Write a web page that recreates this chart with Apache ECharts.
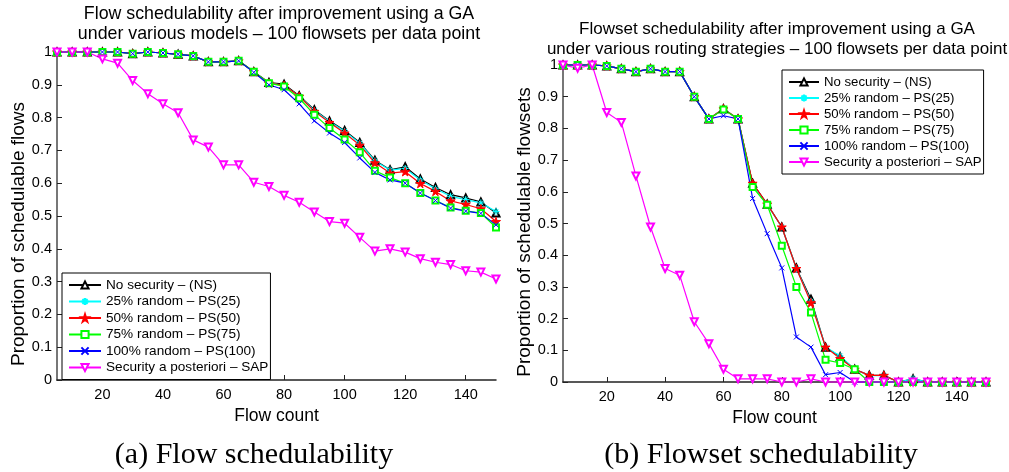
<!DOCTYPE html>
<html><head><meta charset="utf-8">
<script src="https://cdn.jsdelivr.net/npm/echarts@6/dist/echarts.min.js"></script>
<style>html,body{margin:0;padding:0;background:#fff}#c{width:1009px;height:472px}</style>
</head><body><div id="c"></div>
<script>
// ---------- data ----------
const flowCounts = [5,10,15,20,25,30,35,40,45,50,55,60,65,70,75,80,85,90,95,100,105,110,115,120,125,130,135,140,145,150];
const xTickValues = [20,40,60,80,100,120,140];
const seriesNames = ['No security \u2013 (NS)','25% random \u2013 PS(25)','50% random \u2013 PS(50)','75% random \u2013 PS(75)','100% random \u2013 PS(100)','Security a posteriori \u2013 SAP'];

// (a) Flow schedulability
const flowNS    = [1,1,1,1,1,0.995,1,0.997,0.993,0.988,0.97,0.97,0.973,0.94,0.907,0.902,0.867,0.824,0.79,0.761,0.724,0.67,0.641,0.65,0.613,0.587,0.565,0.555,0.543,0.509];
const flowPS25  = [1,1,1,1,1,0.995,1,0.997,0.993,0.988,0.97,0.97,0.973,0.94,0.905,0.898,0.865,0.822,0.788,0.758,0.722,0.668,0.64,0.645,0.61,0.583,0.56,0.55,0.54,0.514];
const flowPS50  = [1,1,1,1,1,0.995,1,0.997,0.993,0.988,0.97,0.97,0.973,0.94,0.905,0.898,0.865,0.819,0.785,0.753,0.716,0.662,0.631,0.635,0.599,0.575,0.546,0.535,0.522,0.483];
const flowPS75  = [1,1,1,1,1,0.995,1,0.997,0.993,0.988,0.97,0.97,0.973,0.94,0.905,0.895,0.859,0.809,0.768,0.733,0.694,0.638,0.617,0.6,0.57,0.547,0.526,0.516,0.509,0.465];
const flowPS100 = [1,1,1,1,1,0.995,1,0.997,0.993,0.988,0.97,0.97,0.973,0.938,0.9,0.885,0.842,0.79,0.753,0.724,0.677,0.633,0.61,0.6,0.57,0.547,0.524,0.515,0.508,0.473];
const flowSAP   = [1,1,1,0.979,0.966,0.913,0.873,0.842,0.815,0.732,0.71,0.656,0.656,0.603,0.59,0.563,0.542,0.512,0.483,0.478,0.435,0.393,0.4,0.39,0.37,0.359,0.352,0.333,0.329,0.308];

// (b) Flowset schedulability
const setNS    = [1,1,1,0.997,0.988,0.979,0.988,0.979,0.979,0.9,0.83,0.862,0.83,0.627,0.561,0.489,0.36,0.261,0.11,0.08,0.04,0.021,0.021,0,0.01,0,0,0,0,0];
const setPS25  = [1,1,1,0.997,0.988,0.979,0.988,0.979,0.979,0.9,0.83,0.862,0.83,0.62,0.56,0.489,0.358,0.255,0.11,0.082,0.04,0.02,0.02,0,0.01,0,0,0,0,0];
const setPS50  = [1,1,1,0.997,0.988,0.979,0.988,0.979,0.979,0.9,0.83,0.862,0.83,0.627,0.561,0.489,0.358,0.25,0.11,0.074,0.04,0.021,0.021,0,0,0,0,0,0,0];
const setPS75  = [1,1,1,0.997,0.988,0.979,0.988,0.979,0.979,0.9,0.83,0.86,0.83,0.615,0.559,0.43,0.3,0.219,0.07,0.06,0.04,0,0,0,0,0,0,0,0,0];
const setPS100 = [1,1,1,0.997,0.988,0.979,0.988,0.979,0.979,0.9,0.83,0.84,0.83,0.579,0.468,0.36,0.142,0.11,0.023,0.03,0,0,0,0,0,0,0,0,0,0];
const setSAP   = [1,0.99,1,0.85,0.819,0.65,0.489,0.358,0.337,0.19,0.121,0.04,0.01,0.01,0.01,0,0,0.01,0,0,0,0,0,0,0,0,0,0,0,0];

const titleA = 'Flow schedulability after improvement using a GA\nunder various models \u2013 100 flowsets per data point';
const titleB = 'Flowset schedulability after improvement using a GA\nunder various routing strategies \u2013 100 flowsets per data point';
const captionA = '(a) Flow schedulability';
const captionB = '(b) Flowset schedulability';
const xName = 'Flow count';
const yNameA = 'Proportion of schedulable flows';
const yNameB = 'Proportion of schedulable flowsets';

// ---------- styles ----------
const SANS = '"Liberation Sans", Arial, Helvetica, sans-serif';
const SERIF = '"Liberation Serif", "DejaVu Serif", serif';
const STAR = 'path://M100,0L122.45,69.1L195.1,69.1L136.33,111.8L158.78,180.9L100,138.2L41.22,180.9L63.67,111.8L4.9,69.1L77.55,69.1Z';
const ASTER = 'path://M5,0L5,10M0,5L10,5M1.5,1.5L8.5,8.5M8.5,1.5L1.5,8.5';
const XMARK = 'path://M0,0L10,10M10,0L0,10';
const styles = [
  {color:'#000000', symbol:'emptyTriangle', size:7, rotate:0},
  {color:'#00ffff', symbol:ASTER, size:7, rotate:0},
  {color:'#ff0000', symbol:STAR, size:9, rotate:0},
  {color:'#00ff00', symbol:'emptyRect', size:6, rotate:0},
  {color:'#0000ff', symbol:XMARK, size:5, rotate:0},
  {color:'#ff00ff', symbol:'emptyTriangle', size:7, rotate:180}
];

function mk(name, vals, idx, st) {
  return {
    type:'line', name:name, xAxisIndex:idx, yAxisIndex:idx,
    data: flowCounts.map((x,i)=>[x, vals[i]]),
    symbol: st.symbol, symbolSize: st.size, symbolRotate: st.rotate, symbolKeepAspect:true,
    showAllSymbol:true, clip:false,
    color: st.color,
    lineStyle:{color:st.color, width:1.2},
    itemStyle:{color: st.color, borderColor:st.color, borderWidth:1},
    emphasis:{disabled:true},
    animation:false
  };
}

const dataA = [flowNS, flowPS25, flowPS50, flowPS75, flowPS100, flowSAP];
const dataB = [setNS, setPS25, setPS50, setPS75, setPS100, setSAP];
const series = [];
dataA.forEach((d,i)=>series.push(mk(seriesNames[i], d, 0, styles[i])));
dataB.forEach((d,i)=>series.push(mk(seriesNames[i], d, 1, styles[i])));

function xAxis(idx) {
  return {
    type:'value', gridIndex:idx, min:5, max:150,
    name:xName, nameLocation:'middle', nameGap:20,
    nameTextStyle:{fontFamily:SANS, fontSize:17.5, color:'#000'},
    axisLine:{onZero:false, lineStyle:{color:'#222', width:1.5}},
    axisTick:{inside:true, length:5, lineStyle:{color:'#222'}, customValues:xTickValues},
    axisLabel:{fontFamily:SANS, fontSize:14.5, color:'#000', margin:7, customValues:xTickValues},
    splitLine:{show:false}
  };
}
function yAxis(idx, name, gap, pad) {
  return {
    type:'value', gridIndex:idx, min:0, max:1, interval:0.1,
    name:name, nameLocation:'middle', nameRotate:90, nameGap:gap,
    nameTextStyle:{fontFamily:SANS, fontSize:19, color:'#000', padding:[0,pad,0,0]},
    axisLine:{show:true, lineStyle:{color:'#777', width:2}},
    axisTick:{show:true, inside:true, length:5, lineStyle:{color:'#222'}},
    axisLabel:{fontFamily:SANS, fontSize:14.5, color:'#000', margin:5,
      formatter:(v)=> (Math.round(v*10)/10).toString()},
    splitLine:{show:false}
  };
}
function legend(left, top, iw, gap, fs) {
  return {
    data: seriesNames, orient:'vertical', left:left, top:top,
    itemWidth:iw, itemHeight:9, itemGap:gap, selectedMode:false,
    backgroundColor:'#ffffff', borderColor:'#000', borderWidth:1,
    padding:[4,2,4,6],
    textStyle:{fontFamily:SANS, fontSize:fs, color:'#000', lineHeight:16}
  };
}

const chart = echarts.init(document.getElementById('c'), null, {renderer:'canvas'});
chart.setOption({
  animation:false,
  backgroundColor:'#ffffff',
  grid:[{left:57, top:52, width:439, height:328}, {left:563, top:65, width:423, height:317}],
  xAxis:[xAxis(0), xAxis(1)],
  yAxis:[yAxis(0, yNameA, 28, 36), yAxis(1, yNameB, 26, 17)],
  legend:[legend(62, 273, 32, 0.5, 13.6), legend(782, 70, 30, 0, 13.2)],
  series: series,
  graphic:[
    {type:'text', x:279, y:4.5, style:{text:titleA, font:'17.8px '+SANS, fill:'#000', align:'center', verticalAlign:'top', lineHeight:19.5}},
    {type:'text', x:777, y:19, style:{text:titleB, font:'17px '+SANS, fill:'#000', align:'center', verticalAlign:'top', lineHeight:20}},
    {type:'text', x:254, y:455, style:{text:captionA, font:'30px '+SERIF, fill:'#000', align:'center', verticalAlign:'middle'}},
    {type:'text', x:761, y:455, style:{text:captionB, font:'30px '+SERIF, fill:'#000', align:'center', verticalAlign:'middle'}}
  ]
});
</script></body></html>
